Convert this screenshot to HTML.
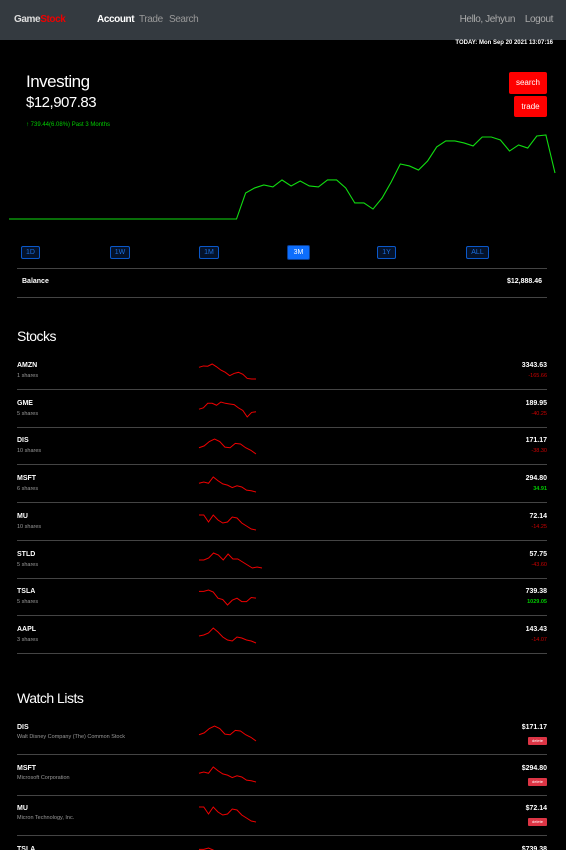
<!DOCTYPE html>
<html><head><meta charset="utf-8">
<style>
*{margin:0;padding:0;box-sizing:border-box}
html,body{width:566px;height:850px;overflow:hidden}
body{background:#000;color:#fff;font-family:"Liberation Sans",sans-serif;position:relative}
.a{position:absolute;white-space:nowrap}
.nav{position:absolute;left:0;top:0;width:566px;height:40px;background:#343a40}
.hd{font-family:"Liberation Sans Narrow","Liberation Sans",sans-serif;letter-spacing:-0.5px}
.sep{position:absolute;left:17px;width:530px;height:1px;background:#444}
.rb{position:absolute;height:13px;border:1px solid #0a58ca;border-radius:2px;color:#1a6fe0;background:#04122a;font-size:7px;line-height:11px;text-align:center}
.nm{font-size:7px;font-weight:bold}
.sub{font-size:5.5px;color:#999}
.pr{font-size:7px;font-weight:bold;text-align:right}
.ch{font-size:5.5px;text-align:right}
.del{position:absolute;left:528px;width:19px;height:8px;background:#dc3545;border-radius:1px;font-size:4px;line-height:8px;text-align:center;color:#fff}
.nv{font-size:10px;letter-spacing:-0.4px;top:14px}
</style></head><body>
<div class="nav">
 <div class="a" style="left:14px;top:14px;font-size:10px;font-weight:bold;letter-spacing:-0.4px"><span style="color:#ddd">Game</span><span style="color:#e00">Stock</span></div>
 <div class="a nv" style="left:97px;color:#fff;font-weight:bold">Account</div>
 <div class="a nv" style="left:139px;color:#999">Trade</div>
 <div class="a nv" style="left:169px;color:#999">Search</div>
 <div class="a nv" style="right:51px;color:#aaa">Hello, Jehyun</div>
 <div class="a nv" style="right:13px;color:#aaa">Logout</div>
</div>
<div class="a" style="right:13px;top:40px;font-size:6px;font-weight:bold">TODAY: Mon Sep 20 2021 13:07:16</div>
<div class="a hd" style="left:26px;top:72px;font-size:17px">Investing</div>
<div class="a hd" style="left:26px;top:94px;font-size:15px">$12,907.83</div>
<div class="a" style="left:26px;top:122px;font-size:6px;color:#0c0">↑ 739.44(6.08%) Past 3 Months</div>
<div class="a" style="left:509px;top:72px;width:38px;height:22px;background:#f00;border-radius:2px;font-size:8px;line-height:22px;text-align:center">search</div>
<div class="a" style="left:514px;top:96px;width:33px;height:21px;background:#f00;border-radius:2px;font-size:8px;line-height:21px;text-align:center">trade</div>
<svg class="a" style="left:0;top:0" width="566" height="240" id="main"></svg>
<div class="rb" style="left:21px;top:246px;width:19px">1D</div>
<div class="rb" style="left:110px;top:246px;width:20px">1W</div>
<div class="rb" style="left:199px;top:246px;width:20px">1M</div>
<div class="rb" style="left:287px;top:245px;width:23px;height:15px;background:#0d6efd;border-color:#0a3d8f;color:#fff;line-height:13px">3M</div>
<div class="rb" style="left:377px;top:246px;width:19px">1Y</div>
<div class="rb" style="left:466px;top:246px;width:23px">ALL</div>
<div class="sep" style="top:268px"></div>
<div class="a" style="left:22px;top:278px;font-size:7px;font-weight:bold">Balance</div>
<div class="a" style="right:24px;top:278px;font-size:7px;font-weight:bold">$12,888.46</div>
<div class="sep" style="top:297px"></div>
<div class="a hd" style="left:17px;top:328px;font-size:14px">Stocks</div>
<div class="a hd" style="left:17px;top:690px;font-size:14px">Watch Lists</div>
<div id="rows"></div>
<script>
const mainValues=[12170,12170,12170,12170,12170,12170,12170,12170,12170,12170,12170,12170,12170,12170,12170,12170,12170,12170,12170,12170,12170,12170,12170,12170,12170,12170,12405,12451,12478,12460,12523,12469,12514,12469,12460,12523,12523,12451,12315,12315,12260,12360,12505,12668,12650,12613,12695,12822,12876,12876,12858,12831,12912,12912,12885,12785,12840,12812,12921,12930,12586];
const mainMin=12170, mainMax=12930;
const stockNames=["AMZN","GME","DIS","MSFT","MU","STLD","TSLA","AAPL"];
const stockShares=["1 shares","5 shares","10 shares","6 shares","10 shares","5 shares","5 shares","3 shares"];
const stockPrices=["3343.63","189.95","171.17","294.80","72.14","57.75","739.38","143.43"];
const stockChanges=["-165.66","-40.25","-38.30","34.91","-14.25","-43.60","1029.05","-14.07"];
const sparkAMZN=[3450,3455,3454,3462,3452,3440,3432,3420,3428,3432,3425,3410,3408,3408];
const sparkGME=[215,217,224,224,221,226,224,223,222,217,213,203,210,211];
const sparkDIS=[200,203,210,214,210,201,200,207,206,200,196,190];
const sparkMSFT=[300,302,300,310,304,299,297,293,296,294,289,288,286];
const sparkMU=[85,85,78,85,80,77,78,83,82,77,74,71,70];
const sparkSTLD=[70,70,72,77,75,70,76,71,71,68,65,62,63,62];
const sparkTSLA=[760,760,762,759,750,748,740,747,750,745,745,751,750];
const sparkAAPL=[150,151,153,158,154,149,146,145,149,148,146,145,143];
const watchNames=["DIS","MSFT","MU","TSLA"];
const watchDescs=["Walt Disney Company (The) Common Stock","Microsoft Corporation","Micron Technology, Inc.","Tesla, Inc."];
const watchPrices=["$171.17","$294.80","$72.14","$739.38"];
const NS="http://www.w3.org/2000/svg";
const main=document.getElementById('main');
const mx=i=>9+i*(555-9)/(mainValues.length-1);
const my=v=>219-(v-mainMin)/(mainMax-mainMin)*84;
const mp=document.createElementNS(NS,'polyline');
mp.setAttribute('points',mainValues.map((v,i)=>mx(i)+','+my(v)).join(' '));
mp.setAttribute('fill','none');mp.setAttribute('stroke','#1d1');mp.setAttribute('stroke-width','1.1');


main.appendChild(mp);
const rows=document.getElementById('rows');
function spark(data,top,w,name){
 const s=document.createElementNS(NS,'svg');
 s.setAttribute('width','80');s.setAttribute('height','24');
 s.style.cssText='position:absolute;left:195px;top:'+top+'px';
 
 
 const mn=Math.min(...data),mx2=Math.max(...data);
 const p=document.createElementNS(NS,'polyline');
 p.setAttribute('points',data.map((v,i)=>(4+i*w/(data.length-1))+','+(3+(mx2-v)/(mx2-mn)*15)).join(' '));
 p.setAttribute('fill','none');p.setAttribute('stroke','#e00');p.setAttribute('stroke-width','1');
 
 
 s.appendChild(p);rows.appendChild(s);
}
function div(cls,txt,css){const d=document.createElement('div');d.className='a '+cls;d.textContent=txt;d.style.cssText=css;rows.appendChild(d);return d;}
const sparks=[sparkAMZN,sparkGME,sparkDIS,sparkMSFT,sparkMU,sparkSTLD,sparkTSLA,sparkAAPL];
stockNames.forEach((n,i)=>{
 const t=362+i*37.7;
 let d=div('nm',n,'left:17px;top:'+t+'px');
 
 
 d=div('sub',stockShares[i],'left:17px;top:'+(t+11)+'px');
 
 
 d=div('pr',stockPrices[i],'right:19px;top:'+t+'px');
 
 
 const neg=stockChanges[i][0]==='-';
 d=div('ch',stockChanges[i],'right:19px;top:'+(t+11)+'px;color:'+(neg?'#c00':'#0c0')+';font-weight:'+(neg?'normal':'bold'));
 
 
 spark(sparks[i],t-1,n==='STLD'?63:57,'stock-sparkline');
 d=div('sep','','top:'+(t+27)+'px;left:17px');
 
 
});
const wsparks=[sparkDIS,sparkMSFT,sparkMU,sparkTSLA];
watchNames.forEach((n,i)=>{
 const t=724+i*40.5;
 let d=div('nm',n,'left:17px;top:'+t+'px');
 
 
 d=div('sub',watchDescs[i],'left:17px;top:'+(t+10)+'px');
 
 
 d=div('pr',watchPrices[i],'right:19px;top:'+t+'px');
 
 
 d=div('','delete','');d.className='del';d.style.top=(t+13)+'px';
 
 
 spark(wsparks[i],t-1,57,'watch-sparkline');
 d=div('sep','','top:'+(t+30)+'px;left:17px');
 
 
});
</script>
</body></html>
